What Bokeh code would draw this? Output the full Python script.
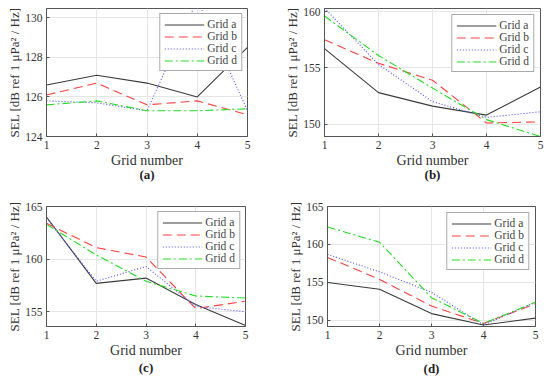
from bokeh.plotting import figure
from bokeh.layouts import column, row
from bokeh.models import Range1d, Title, FixedTicker, Legend, LegendItem
from bokeh.embed import file_html
from bokeh.resources import INLINE

grid_numbers = [1, 2, 3, 4, 5]
series_names = ["Grid a", "Grid b", "Grid c", "Grid d"]

panel_a = {
    "Grid a": [126.6, 127.1, 126.7, 126.0, 128.5],
    "Grid b": [126.1, 126.7, 125.6, 125.8, 125.1],
    "Grid c": [125.8, 125.7, 125.3, 130.9, 125.3],
    "Grid d": [125.6, 125.8, 125.3, 125.3, 125.4],
}
panel_b = {
    "Grid a": [156.7, 152.8, 151.6, 150.8, 153.3],
    "Grid b": [157.5, 155.4, 153.9, 150.1, 150.2],
    "Grid c": [160.3, 155.3, 152.0, 150.6, 151.1],
    "Grid d": [159.6, 156.1, 153.2, 150.4, 148.9],
}
panel_c = {
    "Grid a": [164.0, 157.7, 158.2, 155.7, 153.7],
    "Grid b": [163.4, 161.1, 160.2, 155.3, 156.0],
    "Grid c": [163.9, 157.9, 159.3, 155.5, 155.0],
    "Grid d": [163.3, 160.4, 157.9, 156.5, 156.3],
}
panel_d = {
    "Grid a": [155.0, 154.1, 150.9, 149.4, 150.3],
    "Grid b": [158.3, 155.4, 151.9, 149.6, 152.2],
    "Grid c": [158.7, 156.4, 153.7, 149.4, 152.4],
    "Grid d": [162.3, 160.3, 153.0, 149.6, 152.4],
}

ticks_a = [124, 126, 128, 130]
ticks_b = [150, 155, 160]
ticks_c = [155, 160, 165]
ticks_d = [150, 155, 160, 165]

x_label = "Grid number"
y_label = "SEL [dB ref 1 \u03bcPa\u00b2 / Hz]"

styles = {
    "Grid a": dict(line_color="#3c3c3c", line_dash="solid"),
    "Grid b": dict(line_color="#ff4040", line_dash="9 5"),
    "Grid c": dict(line_color="#4d4dff", line_dash="1 2"),
    "Grid d": dict(line_color="#22dd22", line_dash="8 3 2 3"),
}

FONT = "Liberation Serif"


def make_panel(data, yr, yticks, caption, width, height, bl, br, bt, bb, leg_margin, cap_standoff):
    p = figure(width=width, height=height, output_backend="svg", toolbar_location=None,
               x_range=Range1d(1, 5), y_range=Range1d(*yr),
               min_border_left=bl, min_border_right=br, min_border_top=bt, min_border_bottom=bb)
    items = []
    for name in series_names:
        r = p.line(grid_numbers, data[name], line_width=1.1, **styles[name])
        items.append(LegendItem(label=name, renderers=[r]))
    leg = Legend(items=items, location="top_right")
    leg.margin = leg_margin
    leg.padding = 4
    leg.spacing = 0
    leg.label_text_font = FONT
    leg.label_text_font_size = "11.5px"
    leg.label_height = 11
    leg.glyph_height = 11
    leg.glyph_width = 40
    leg.label_standoff = 3
    leg.border_line_color = "#555555"
    leg.border_line_width = 1
    leg.background_fill_alpha = 1
    p.add_layout(leg, "center")

    p.xaxis.ticker = FixedTicker(ticks=grid_numbers)
    p.yaxis.ticker = FixedTicker(ticks=yticks)
    for ax in (p.xaxis, p.yaxis):
        ax.major_label_text_font = FONT
        ax.major_label_text_font_size = "11.5px"
        ax.major_label_text_color = "#333333"
        ax.axis_line_color = "#555555"
        ax.major_tick_line_color = "#555555"
        ax.major_tick_in = 3
        ax.major_tick_out = 0
        ax.minor_tick_line_color = None
        ax.major_label_standoff = 4
    p.grid.grid_line_color = "#e6e6e6"
    p.outline_line_color = "#555555"
    p.outline_line_width = 1
    p.background_fill_color = "white"

    xl = Title(text=x_label, align="center", text_font=FONT, text_font_size="14px",
               text_font_style="normal", text_color="#333333", standoff=-1, offset=0)
    p.add_layout(xl, "below")
    cap = Title(text=caption, align="center", text_font=FONT, text_font_size="13px",
                text_font_style="bold", text_color="#222222", standoff=cap_standoff)
    p.add_layout(cap, "below")
    yl = Title(text=y_label, align="center", text_font=FONT, text_font_size="13px",
               text_font_style="normal", text_color="#333333", standoff=2)
    p.add_layout(yl, "left")
    return p


pa = make_panel(panel_a, (124, 130.47), ticks_a, "(a)", 270, 198, 46, 23, 8, 60, 5, -6)
pb = make_panel(panel_b, (148.9, 160.27), ticks_b, "(b)", 280, 198, 54, 10, 8, 62, 6, -6)
pc = make_panel(panel_c, (153.6, 165), ticks_c, "(c)", 270, 187, 46, 25, 8, 59, 5, 0)
pd = make_panel(panel_d, (149.2, 165), ticks_d, "(d)", 280, 187, 57, 15, 8, 57, 6, 3)

layout = column(row(pa, pb), row(pc, pd))
open("out.html", "w").write(file_html(layout, INLINE))
